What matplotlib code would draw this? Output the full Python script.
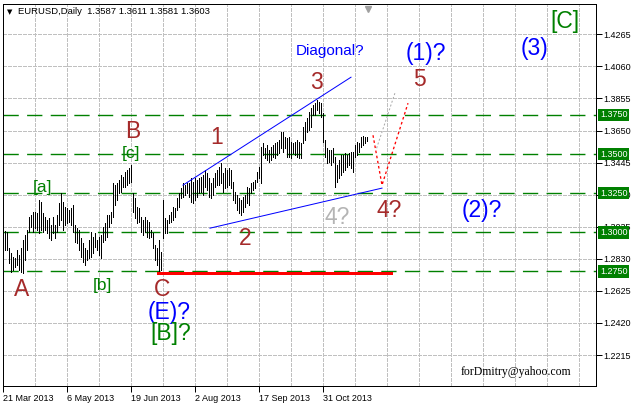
import matplotlib.pyplot as plt
import matplotlib.transforms as mtransforms

# daily EURUSD highs / lows, first bar 21 Mar 2013
highs = [
    1.3007, 1.3001, 1.2898, 1.2866, 1.2841, 1.2834, 1.2886, 1.2854, 1.2898, 1.2949,
    1.2981, 1.3013, 1.3096, 1.3109, 1.3128, 1.3128, 1.3122, 1.3205, 1.3192, 1.3122,
    1.3096, 1.3077, 1.3090, 1.3045, 1.3096, 1.3045, 1.3109, 1.3186, 1.3250, 1.3192,
    1.3160, 1.3154, 1.3141, 1.3154, 1.3173, 1.3045, 1.3026, 1.3013, 1.2962, 1.2930,
    1.2898, 1.2886, 1.2949, 1.3001, 1.2969, 1.2994, 1.2949, 1.2969, 1.2981, 1.3032,
    1.3058, 1.3109, 1.3109, 1.3128, 1.3314, 1.3301, 1.3314, 1.3333, 1.3365, 1.3352,
    1.3384, 1.3397, 1.3409, 1.3429, 1.3250, 1.3218, 1.3160, 1.3154, 1.3096, 1.3077,
    1.3096, 1.3077, 1.3064, 1.3013, 1.2994, 1.2917, 1.2898, 1.2949, 1.2873, 1.3205,
    1.3090, 1.3077, 1.3109, 1.3128, 1.3160, 1.3154, 1.3218, 1.3250, 1.3282, 1.3314,
    1.3301, 1.3314, 1.3314, 1.3346, 1.3320, 1.3346, 1.3333, 1.3346, 1.3352, 1.3365,
    1.3397, 1.3378, 1.3346, 1.3314, 1.3346, 1.3378, 1.3397, 1.3416, 1.3441, 1.3378,
    1.3409, 1.3397, 1.3409, 1.3397, 1.3320, 1.3256, 1.3237, 1.3218, 1.3205, 1.3224,
    1.3237, 1.3288, 1.3282, 1.3314, 1.3320, 1.3333, 1.3384, 1.3416, 1.3544, 1.3569,
    1.3537, 1.3556, 1.3525, 1.3544, 1.3556, 1.3569, 1.3576, 1.3588, 1.3640, 1.3640,
    1.3608, 1.3601, 1.3608, 1.3576, 1.3569, 1.3576, 1.3588, 1.3576, 1.3569, 1.3671,
    1.3703, 1.3729, 1.3767, 1.3793, 1.3812, 1.3825, 1.3844, 1.3831, 1.3825, 1.3761,
    1.3588, 1.3537, 1.3525, 1.3525, 1.3537, 1.3480, 1.3429, 1.3461, 1.3493, 1.3493,
    1.3505, 1.3493, 1.3505, 1.3512, 1.3512, 1.3556, 1.3576, 1.3569, 1.3608, 1.3614,
    1.3608, 1.3611,
]
lows = [
    1.2886, 1.2886, 1.2802, 1.2745, 1.2758, 1.2777, 1.2790, 1.2758, 1.2745, 1.2739,
    1.2822, 1.2886, 1.3001, 1.3032, 1.3001, 1.3026, 1.3013, 1.2994, 1.3013, 1.3001,
    1.3013, 1.2994, 1.2962, 1.2949, 1.2994, 1.2962, 1.3001, 1.3045, 1.3077, 1.3013,
    1.3045, 1.3058, 1.3064, 1.3045, 1.3001, 1.2937, 1.2930, 1.2886, 1.2841, 1.2809,
    1.2790, 1.2822, 1.2834, 1.2841, 1.2866, 1.2905, 1.2886, 1.2854, 1.2834, 1.2937,
    1.2949, 1.2969, 1.3032, 1.3058, 1.3096, 1.3173, 1.3205, 1.3250, 1.3256, 1.3288,
    1.3288, 1.3301, 1.3314, 1.3320, 1.3128, 1.3090, 1.3058, 1.3064, 1.3001, 1.2981,
    1.3001, 1.2969, 1.2962, 1.2969, 1.2898, 1.2822, 1.2790, 1.2751, 1.2758, 1.2962,
    1.2994, 1.2994, 1.3058, 1.3064, 1.3077, 1.3096, 1.3141, 1.3160, 1.3218, 1.3224,
    1.3237, 1.3250, 1.3224, 1.3192, 1.3186, 1.3205, 1.3224, 1.3250, 1.3256, 1.3237,
    1.3288, 1.3269, 1.3224, 1.3218, 1.3237, 1.3288, 1.3301, 1.3301, 1.3314, 1.3256,
    1.3282, 1.3288, 1.3301, 1.3282, 1.3205, 1.3186, 1.3141, 1.3122, 1.3109, 1.3128,
    1.3160, 1.3186, 1.3173, 1.3250, 1.3269, 1.3282, 1.3320, 1.3346, 1.3314, 1.3493,
    1.3473, 1.3461, 1.3448, 1.3461, 1.3480, 1.3473, 1.3493, 1.3505, 1.3537, 1.3512,
    1.3537, 1.3480, 1.3480, 1.3473, 1.3505, 1.3493, 1.3480, 1.3473, 1.3473, 1.3569,
    1.3588, 1.3640, 1.3652, 1.3671, 1.3748, 1.3748, 1.3780, 1.3761, 1.3735, 1.3576,
    1.3480, 1.3441, 1.3448, 1.3429, 1.3448, 1.3288, 1.3320, 1.3346, 1.3365, 1.3384,
    1.3397, 1.3416, 1.3429, 1.3409, 1.3384, 1.3480, 1.3493, 1.3512, 1.3544, 1.3556,
    1.3569, 1.3581,
]

date_labels = ["21 Mar 2013", "6 May 2013", "19 Jun 2013", "2 Aug 2013",
               "17 Sep 2013", "31 Oct 2013"]
price_ticks = [1.2215, 1.2420, 1.2625, 1.2830, 1.3035, 1.3240, 1.3445,
               1.3650, 1.3855, 1.4060, 1.4265]
levels = [1.3750, 1.3500, 1.3250, 1.3000, 1.2750]

# wave drawing
upper_line = ([90, 174], [1.3301, 1.3991])
lower_line = ([103.5, 189.5], [1.3026, 1.3282])
support_line = ([77.5, 194], [1.2738, 1.2738])
path_red = ([185, 189.5, 202.5], [1.3620, 1.3301, 1.3825])
path_grey = ([186.8, 196], [1.3537, 1.3891])

brown = '#a52a2a'
green = '#008000'
blue = '#0000ff'

fig = plt.figure(figsize=(6.38, 4.05), dpi=100)
ax = fig.add_axes([3 / 638, 19 / 405, 593 / 638, 382 / 405])
ax.set_xlim(0, 296.5)
ax.set_ylim(1.2017, 1.4459)

px = 0.72  # one pixel in points

# grid
for g in range(16, 296, 16):
    ax.axvline(g, color='#c0c0c0', lw=px, ls=(0, (3, 2)), zorder=0, antialiased=False)
for p in price_ticks:
    ax.axhline(p, color='#c0c0c0', lw=px, ls=(0, (3, 2)), zorder=0, antialiased=False)

for lv in levels:
    ax.axhline(lv, color=green, lw=1.0, ls=(0, (11, 6)), zorder=1)

# bars
pos = list(range(1, len(highs) + 1))
ax.vlines(pos, lows, highs, color='black', lw=px, zorder=3, antialiased=False)

ax.plot(*upper_line, color=blue, lw=px, zorder=4)
ax.plot(*lower_line, color=blue, lw=px, zorder=4)
ax.plot(*support_line, color='#ff0000', lw=1.0, zorder=4, antialiased=False)
ax.plot(*path_red, color='red', lw=px * 1.3, ls=(0, (2, 2)), zorder=4)
ax.plot(*path_grey, color='#a8a8a8', lw=px, ls=(0, (2, 2)), zorder=4)

# axes cosmetics
ax.set_xticks(range(0, 161, 32))
ax.set_xticklabels(date_labels, ha='left', fontsize=6.5, family='Liberation Sans')
ax.yaxis.tick_right()
ax.set_yticks(price_ticks)
ax.set_yticklabels(['%.4f' % p for p in price_ticks], fontsize=6.5,
                   family='Liberation Sans')
ax.tick_params(axis='both', length=4, width=px, pad=1.5, colors='black')
for s in ax.spines.values():
    s.set_linewidth(px)
    s.set_color('black')

# price boxes on the right
trans = mtransforms.blended_transform_factory(ax.transAxes, ax.transData)
for lv in levels:
    ax.text(1.0 + 4 / 593, lv, '%.4f' % lv, transform=trans, ha='left', va='center',
            color='white', fontsize=6.5, family='Liberation Sans', clip_on=False,
            zorder=10, bbox=dict(boxstyle='square,pad=0.2', fc=green, ec='none'))

# header
fig.text(10 / 638, 1 - 12 / 405, u'\u25bc', fontsize=5, ha='center', va='center')
fig.text(18 / 638, 1 - 12 / 405, 'EURUSD,Daily  1.3587 1.3611 1.3581 1.3603',
         fontsize=6.8, family='Liberation Sans', va='center')
ax.plot([182.5], [1.4425], marker='v', color='#a0a0a0', ms=5, clip_on=False)

# wave labels
big = dict(family='Liberation Sans', fontsize=16.5, ha='center', va='center', zorder=6)
ax.text(163.5, 1.4158, 'Diagonal?', color=blue, family='Liberation Sans',
        fontsize=11, ha='center', va='center')
ax.text(156.5, 1.3959, '3', color=brown, **big)
ax.text(107, 1.3607, '1', color=brown, **big)
ax.text(121, 1.2963, '2', color=brown, **big)
ax.text(65, 1.3646, 'B', color=brown, **big)
ax.text(9.5, 1.2631, 'A', color=brown, **big)
ax.text(79.5, 1.2634, 'C', color=brown, **big)
ax.text(208, 1.3979, '5', color=brown, **big)
ax.text(193, 1.3142, '4?', color=brown, **big)
ax.text(167, 1.3091, '4?', color='#b4b4b4', **big)
ax.text(83, 1.2488, '(E)?', color=blue, **big)
ax.text(84, 1.2352, '[B]?', color=green, **big)
ax.text(211.5, 1.4145, '(1)?', color=blue, **big)
ax.text(265.5, 1.4177, '(3)', color=blue, **big)
ax.text(239.5, 1.3136, '(2)?', color=blue, **big)
ax.text(281, 1.4344, '[C]', color=green, **big)

small = dict(family='Liberation Sans', fontsize=12.5, ha='center', va='center',
             color=green, zorder=6)
ax.text(20, 1.3288, '[a]', **small)
ax.text(64, 1.3505, '[c]', **small)
ax.text(49.5, 1.2662, '[b]', **small)

ax.text(256.5, 1.2106, 'forDmitry@yahoo.com', family='Liberation Serif', fontsize=8.5,
        ha='center', va='center', color='black')

plt.savefig('out.png', dpi=100)
